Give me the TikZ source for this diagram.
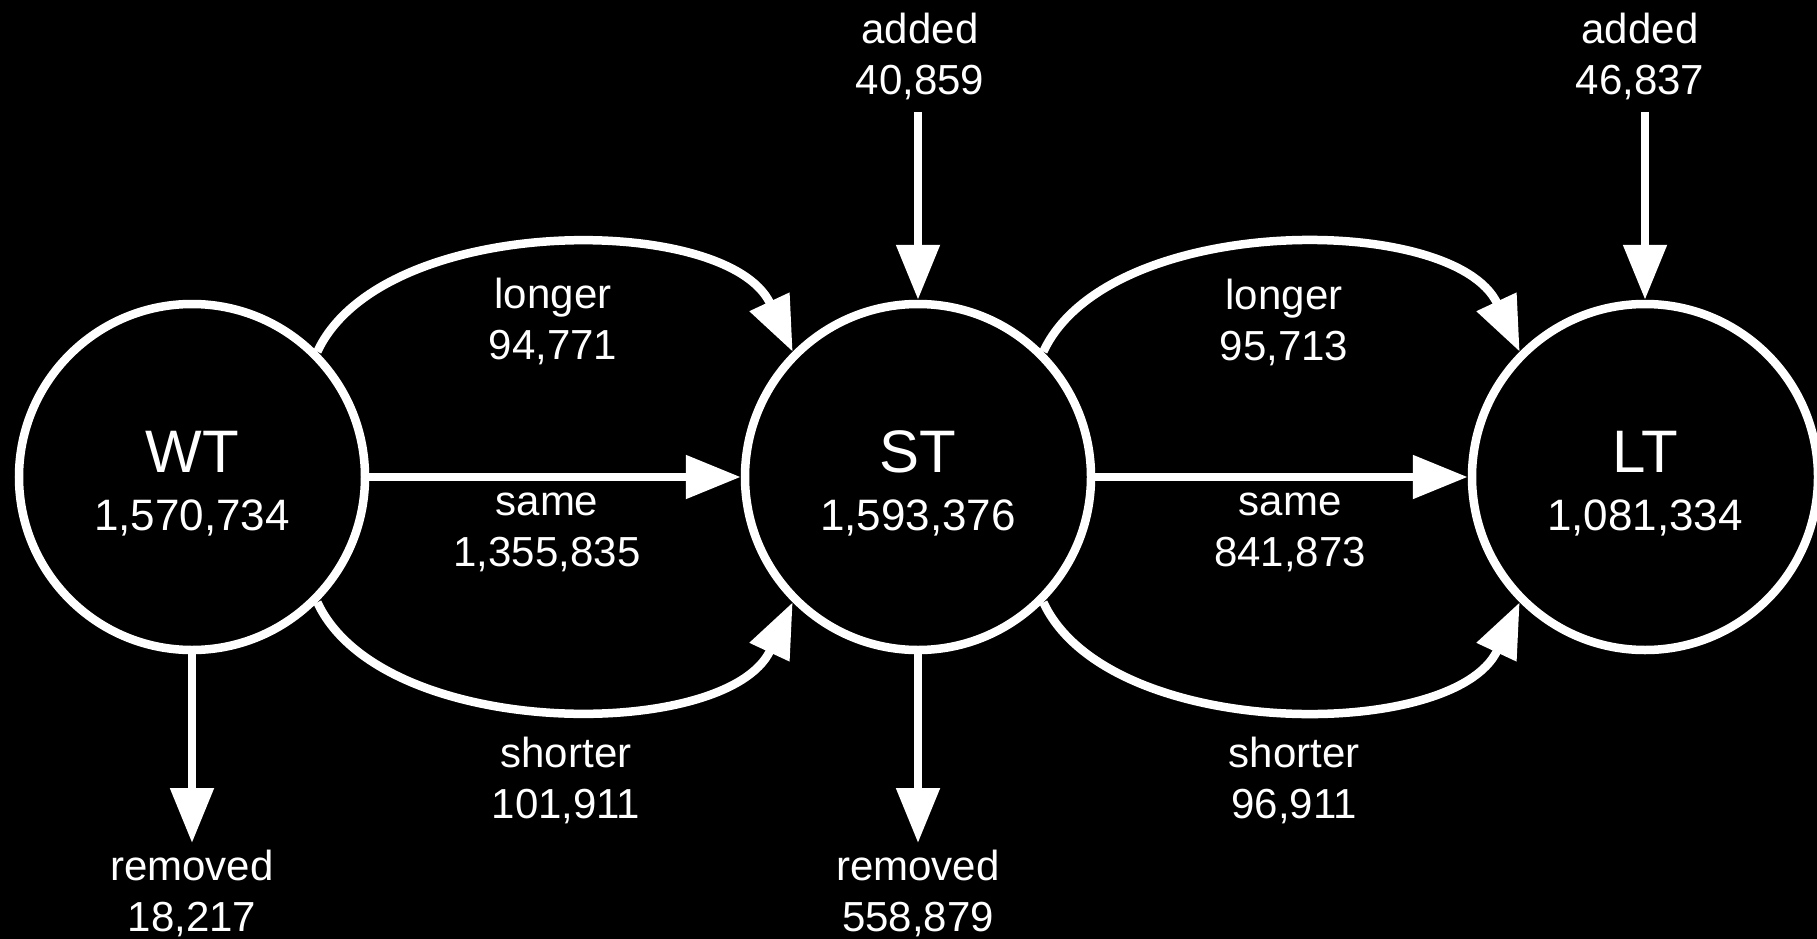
\documentclass[tikz,border=0pt]{standalone}
\usepackage{fontspec}
\setmainfont{Liberation Sans}
\usetikzlibrary{arrows.meta}
\begin{document}
\begin{tikzpicture}[x=1pt,y=1pt,
  state/.style={circle, draw=white, line width=8.5pt, fill=black,
    minimum size=346pt, inner sep=0pt, text=white, align=center,
    text height=106pt, text depth=0pt, font=\fontsize{44}{58}\selectfont},
  flow/.style={draw=white, line width=8.5pt,
    -{Triangle[length=55pt,width=42pt]}},
  lbl/.style={text=white, align=center, inner sep=0pt, anchor=north,
    font=\fontsize{42}{51}\selectfont}
]
\fill[black] (0,0) rectangle (1817,-939);
\useasboundingbox (0,0) rectangle (1817,-939);

\node[state] (WT) at (192,-477) {{\fontsize{60}{58}\selectfont WT}\\1,570,734};
\node[state] (ST) at (918,-477) {{\fontsize{60}{58}\selectfont ST}\\1,593,376};
\node[state] (LT) at (1645,-477) {{\fontsize{60}{58}\selectfont LT}\\1,081,334};

% transitions WT -> ST
\draw[flow] (WT.45) to[out=65, in=115, looseness=0.83] (ST.135);
\draw[flow] (WT) -- (ST);
\draw[flow] (WT.-45) to[out=-65, in=-115, looseness=0.83] (ST.-135);
% transitions ST -> LT
\draw[flow] (ST.45) to[out=65, in=115, looseness=0.83] (LT.135);
\draw[flow] (ST) -- (LT);
\draw[flow] (ST.-45) to[out=-65, in=-115, looseness=0.83] (LT.-135);

% added / removed
\coordinate (addST) at (918,-112);
\coordinate (addLT) at (1645,-112);
\coordinate (remWT) at (192,-843);
\coordinate (remST) at (918,-843);
\draw[flow] (addST) -- (ST);
\draw[flow] (addLT) -- (LT);
\draw[flow] (WT) -- (remWT);
\draw[flow] (ST) -- (remST);

% labels
\node[lbl] (lAddST) at (920,-13) {added\\40,859};
\node[lbl] (lAddLT) at (1640,-13) {added\\46,837};
\node[lbl] (lLong1) at (553,-278) {longer\\94,771};
\node[lbl] (lSame1) at (547,-493) {same\\1,355,835};
\node[lbl] (lShort1) at (566,-737) {shorter\\101,911};
\node[lbl] (lLong2) at (1284,-279) {longer\\95,713};
\node[lbl] (lSame2) at (1290,-493) {same\\841,873};
\node[lbl] (lShort2) at (1294,-737) {shorter\\96,911};
\node[lbl] (lRemWT) at (192,-850) {removed\\18,217};
\node[lbl] (lRemST) at (918,-850) {removed\\558,879};
\end{tikzpicture}
\end{document}
